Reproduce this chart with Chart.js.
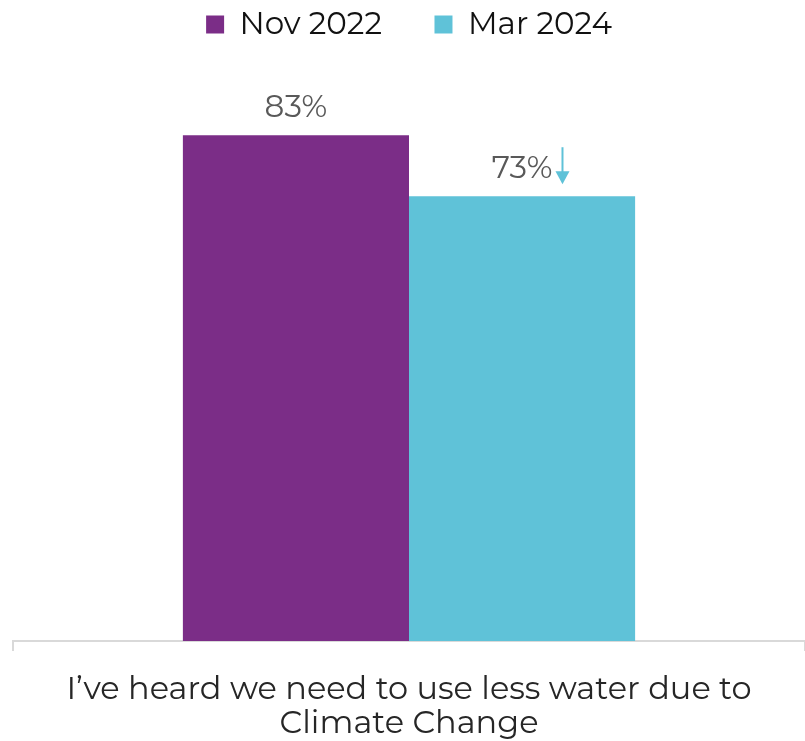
<!DOCTYPE html>
<html><head><meta charset="utf-8">
<script src="https://cdn.jsdelivr.net/npm/chart.js@4/dist/chart.umd.min.js"></script>
<style>html,body{margin:0;padding:0;background:#fff;overflow:hidden}#wrap{width:805px;height:741px}</style>
</head><body><div id="wrap"><canvas id="c"></canvas></div>
<script>
const categories = [["I’ve heard we need to use less water due to", "Climate Change"]];
const seriesNames = ["Nov 2022", "Mar 2024"];
const nov2022 = [83];
const mar2024 = [73];
const arrows = [null, "down"];
const colors = ["#7B2D87", "#5FC2D8"];
const FONT = "Montserrat, 'Open Sans', 'Noto Sans', sans-serif";

const labelPlugin = {
  id: 'vlabels',
  afterDatasetsDraw(chart) {
    const ctx = chart.ctx;
    chart.data.datasets.forEach((ds, di) => {
      const meta = chart.getDatasetMeta(di);
      meta.data.forEach((bar, i) => {
        const txt = ds.data[i] + '%';
        ctx.save();
        ctx.font = '31px ' + FONT;
        ctx.fillStyle = '#595959';
        ctx.textAlign = 'center';
        ctx.textBaseline = 'alphabetic';
        ctx.fillText(txt, bar.x, bar.y - 18);
        if (arrows[di] === 'down') {
          const w = ctx.measureText(txt).width;
          const ax = bar.x + w / 2 + 10;
          const top = bar.y - 49, bottom = bar.y - 12;
          ctx.strokeStyle = colors[di];
          ctx.fillStyle = colors[di];
          ctx.lineWidth = 2;
          ctx.beginPath(); ctx.moveTo(ax, top); ctx.lineTo(ax, bottom - 8); ctx.stroke();
          ctx.beginPath(); ctx.moveTo(ax - 7, bottom - 13); ctx.lineTo(ax + 7, bottom - 13); ctx.lineTo(ax, bottom); ctx.closePath(); ctx.fill();
        }
        ctx.restore();
      });
    });
  }
};

const legendGap = '\u2003\u2002';

new Chart(document.getElementById('c'), {
  type: 'bar',
  data: {
    labels: categories,
    datasets: [
      { label: seriesNames[0], data: nov2022, backgroundColor: colors[0] },
      { label: seriesNames[1], data: mar2024, backgroundColor: colors[1] }
    ]
  },
  options: {
    responsive: true, maintainAspectRatio: false, animation: false,
    layout: { padding: { left: 13, right: 0, top: 3, bottom: 0 } },
    datasets: { bar: { categoryPercentage: 0.571, barPercentage: 1 } },
    plugins: {
      legend: {
        position: 'top',
        labels: {
          font: { size: 31, family: FONT }, color: '#111', boxWidth: 18, boxHeight: 18, padding: 6,
          generateLabels(chart) {
            const items = Chart.defaults.plugins.legend.labels.generateLabels(chart);
            items.forEach((it, i) => { if (i < items.length - 1) it.text = it.text + legendGap; });
            return items;
          }
        }
      },
      tooltip: { enabled: false }
    },
    scales: {
      x: {
        afterFit(scale) { scale.height = 100; },
        grid: { display: true, drawOnChartArea: false, drawTicks: true, tickLength: 10, color: '#d9d9d9', lineWidth: 2, offset: true },
        border: { display: true, color: '#d9d9d9', width: 2 },
        ticks: { font: { size: 32, family: FONT, lineHeight: 1.0625 }, color: '#262626', padding: 22 }
      },
      y: { display: false, min: 0, max: 97 }
    }
  },
  plugins: [labelPlugin]
});
</script></body></html>
